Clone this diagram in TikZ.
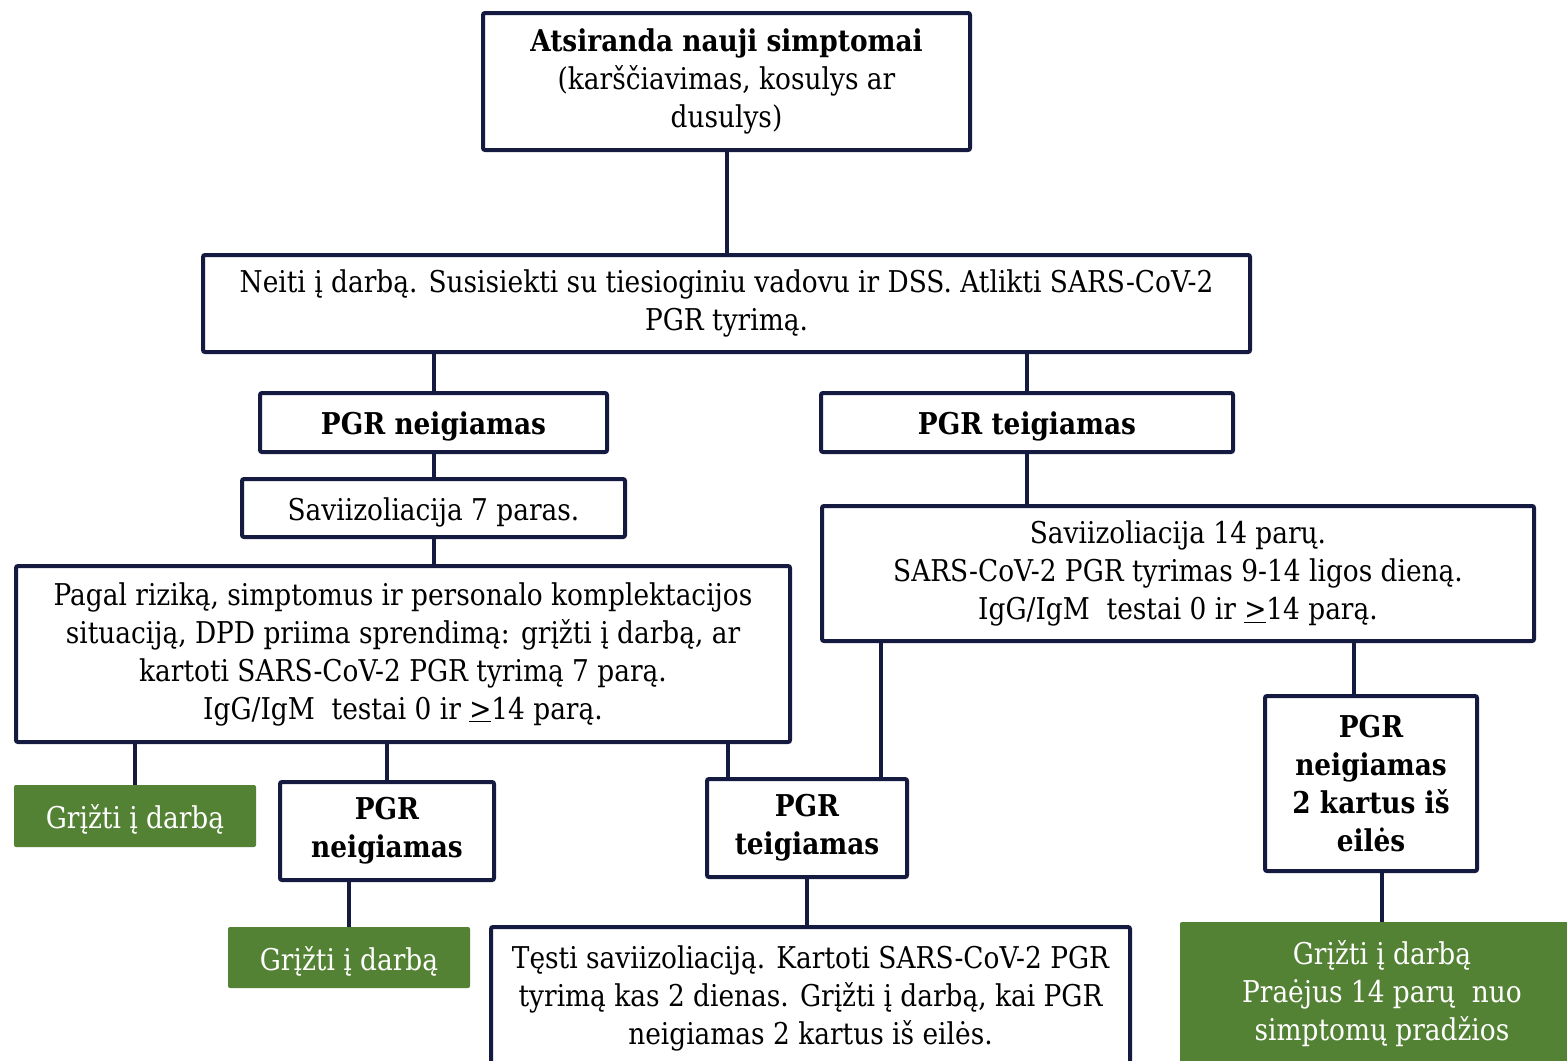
\documentclass[tikz,border=0pt]{standalone}
\usepackage{fontspec}
\setmainfont{DejaVu Serif}[FakeStretch=0.88]
\definecolor{linenavy}{HTML}{141A40}
\definecolor{workgreen}{HTML}{548235}

\begin{document}
\begin{tikzpicture}[x=0.5pt,y=-0.5pt,
  box/.style={draw=linenavy,line width=2pt,rounded corners=1pt,fill=white,align=center,inner sep=0pt,font=\fontsize{15}{19}\selectfont,execute at begin node={\rule{0pt}{15.5pt}}},
  boldbox/.style={box,font=\fontsize{15}{19}\selectfont\bfseries},
  gobox/.style={fill=workgreen,rounded corners=1pt,text=white,align=center,inner sep=0pt,font=\fontsize{15}{19}\selectfont,execute at begin node={\rule{0pt}{15.5pt}}},
  link/.style={draw=linenavy,line width=2pt}]
   \useasboundingbox (0,0) rectangle (1567,1060);
   \clip (0,0) rectangle (1567,1060);
   \node[box,minimum width=243.5pt,minimum height=68.5pt] (symptoms) at (726.5,81.5) {{\bfseries Atsiranda nauji simptomai}\\(karščiavimas, kosulys ar\\dusulys)};
   \node[box,minimum width=523.5pt,minimum height=48.5pt] (stayhome) at (726.5,303.5) {Neiti į darbą. Susisiekti su tiesioginiu vadovu ir DSS. Atlikti SARS-CoV-2\\PGR tyrimą.};
   \node[boldbox,minimum width=173.5pt,minimum height=29.5pt] (negA) at (433.5,422.5) {PGR neigiamas};
   \node[boldbox,minimum width=206pt,minimum height=29.5pt] (posA) at (1027,422.5) {PGR teigiamas};
   \node[box,minimum width=191.5pt,minimum height=29pt] (isoseven) at (433.5,508) {Saviizoliacija 7 paras.};
   \node[box,minimum width=387pt,minimum height=88pt] (decide) at (403,654) {Pagal riziką, simptomus ir personalo komplektacijos\\situaciją, DPD priima sprendimą: grįžti į darbą, ar\\kartoti SARS-CoV-2 PGR tyrimą 7 parą.\\IgG/IgM~ testai 0 ir \underline{>}14 parą.};
   \node[box,minimum width=356pt,minimum height=67.5pt] (isofourteen) at (1178,573.5) {Saviizoliacija 14 parų.\\SARS-CoV-2 PGR tyrimas 9-14 ligos dieną.\\IgG/IgM~ testai 0 ir \underline{>}14 parą.};
   \node[gobox,minimum width=121pt,minimum height=31pt] (backA) at (135,816) {Grįžti į darbą};
   \node[boldbox,minimum width=107pt,minimum height=49pt] (negB) at (387,831) {PGR\\neigiamas};
   \node[boldbox,minimum width=100pt,minimum height=49pt] (posB) at (807,828) {PGR\\teigiamas};
   \node[boldbox,minimum width=106pt,minimum height=87.5pt] (negC) at (1371,783.5) {PGR\\neigiamas\\2 kartus iš\\eilės};
   \node[gobox,minimum width=121pt,minimum height=30.5pt] (backB) at (349,957.5) {Grįžti į darbą};
   \node[box,minimum width=319.5pt,minimum height=71pt] (repeat) at (810.5,998) {Tęsti saviizoliaciją. Kartoti SARS-CoV-2 PGR\\tyrimą kas 2 dienas. Grįžti į darbą, kai PGR\\neigiamas 2 kartus iš eilės.};
   \node[gobox,minimum width=202pt,minimum height=71.5pt] (backC) at (1382,993.5) {Grįžti į darbą\\Praėjus 14 parų~ nuo\\simptomų pradžios};
   \coordinate (dp) at ([xshift=-32pt]decide.south east);
   \coordinate (ip) at ([xshift=30.5pt]isofourteen.south west);
   \coordinate (in) at ([xshift=-8.5pt]negC.north);
   \coordinate (nb) at ([xshift=5.5pt]negC.south);
   \draw[link] (symptoms) -- (stayhome);
   \draw[link] (negA) -- (negA |- stayhome.south);
   \draw[link] (posA) -- (posA |- stayhome.south);
   \draw[link] (negA) -- (isoseven);
   \draw[link] (isoseven) -- (isoseven |- decide.north);
   \draw[link] (posA) -- (posA |- isofourteen.north);
   \draw[link] (backA) -- (backA |- decide.south);
   \draw[link] (negB) -- (negB |- decide.south);
   \draw[link] (dp) -- (dp |- posB.north);
   \draw[link] (ip) -- (ip |- posB.north);
   \draw[link] (in) -- (in |- isofourteen.south);
   \draw[link] (backB) -- (backB |- negB.south);
   \draw[link] (posB) -- (posB |- repeat.north);
   \draw[link] (nb) -- (nb |- backC.north);
\end{tikzpicture}
\end{document}
